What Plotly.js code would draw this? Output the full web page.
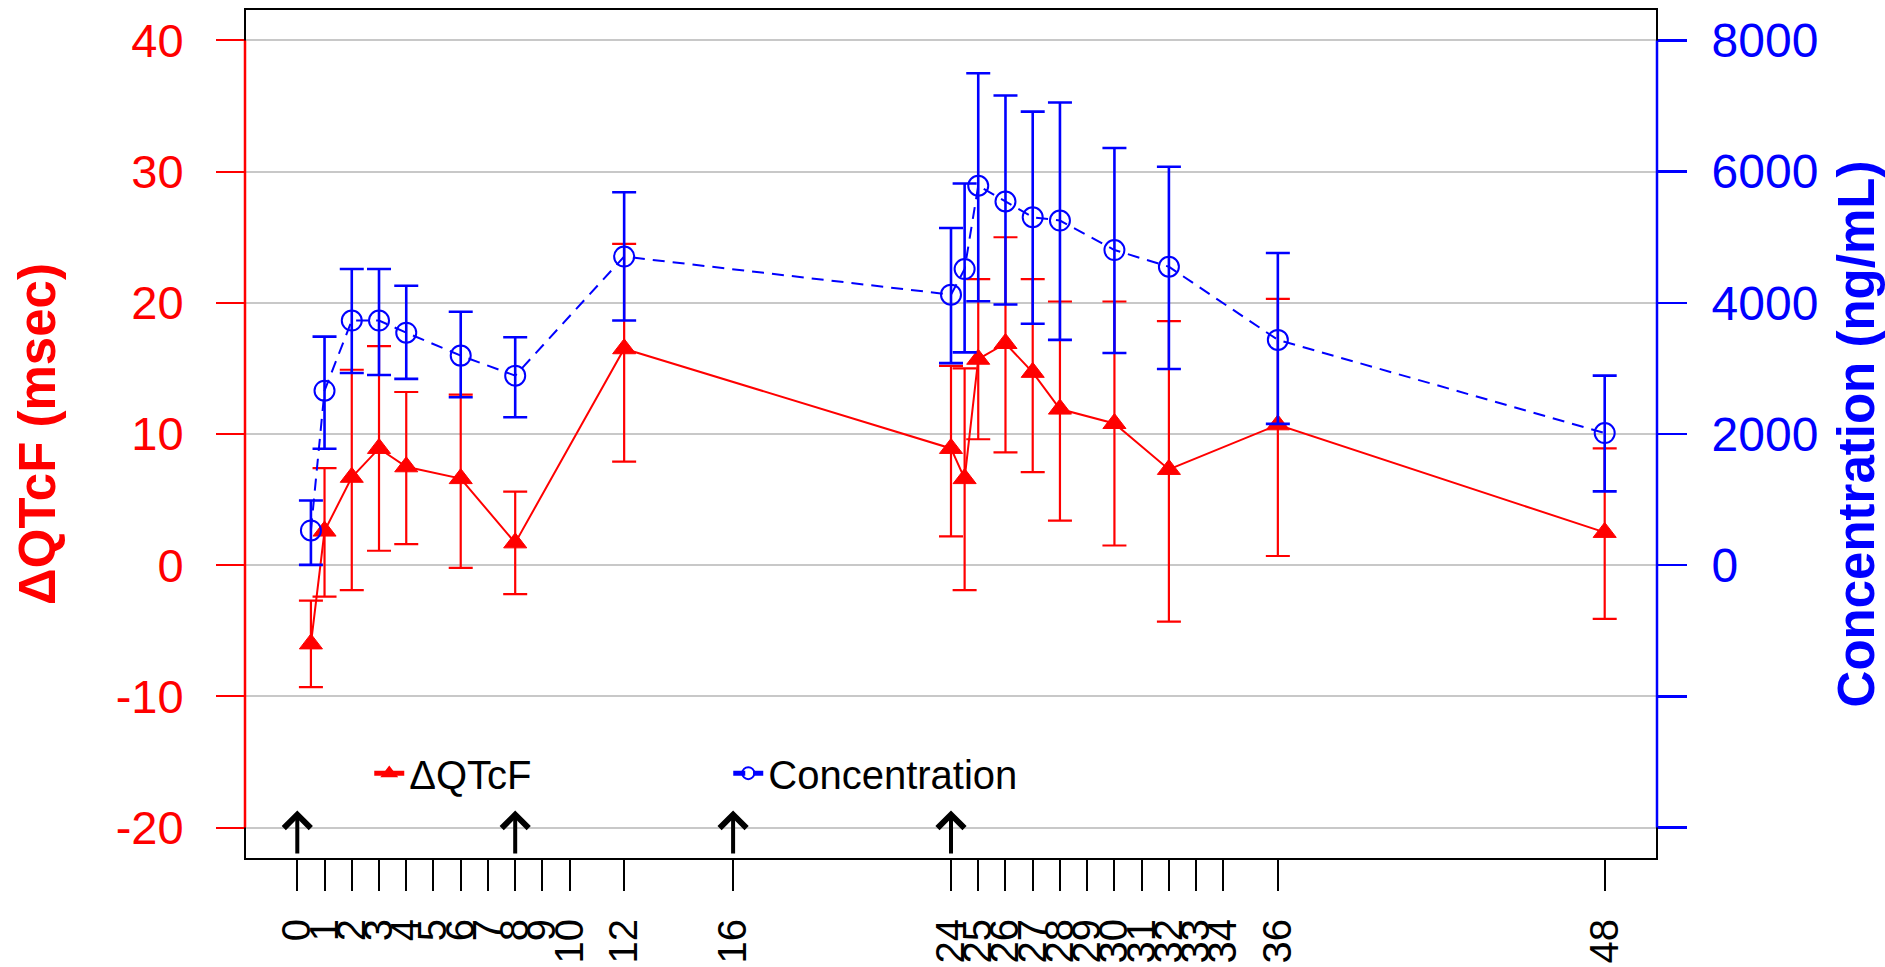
<!DOCTYPE html>
<html>
<head>
<meta charset="utf-8">
<script src="https://cdn.plot.ly/plotly-3.0.1.min.js"></script>
<style>
html, body { margin: 0; padding: 0; background: #ffffff; }
#chart { width: 1885px; height: 967px; }
</style>
</head>
<body>
<div id="chart"></div>
<script>
// ---- data ----
const timeHours = [0.5, 1, 2, 3, 4, 6, 8, 12, 24, 24.5, 25, 26, 27, 28, 30, 32, 36, 48];
const qtcfMean  = [-6.0, 2.6, 6.7, 8.9, 7.5, 6.6, 1.7, 16.5, 8.9, 6.6, 15.7, 16.9, 14.7, 11.9, 10.8, 7.3, 10.7, 2.5];
const qtcfUpper = [-2.7, 7.4, 14.9, 16.7, 13.2, 13.0, 5.6, 24.5, 15.2, 15.0, 21.8, 25.0, 21.8, 20.1, 20.1, 18.6, 20.3, 8.9];
const qtcfLower = [-9.3, -2.4, -1.9, 1.1, 1.6, -0.2, -2.2, 7.9, 2.2, -1.9, 9.6, 8.6, 7.1, 3.4, 1.5, -4.3, 0.7, -4.1];
const concMean  = [530, 2660, 3730, 3730, 3545, 3195, 2890, 4705, 4125, 4515, 5785, 5545, 5305, 5255, 4805, 4550, 3435, 2015];
const concUpper = [985, 3485, 4515, 4515, 4260, 3865, 3475, 5685, 5140, 5820, 7500, 7160, 6915, 7055, 6360, 6075, 4760, 2890];
const concLower = [5, 1775, 2930, 2900, 2840, 2560, 2255, 3730, 3080, 3245, 4025, 3975, 3680, 3435, 3235, 2990, 2155, 1125];

const xTickVals   = [0, 1, 2, 3, 4, 5, 6, 7, 8, 9, 10, 12, 16, 24, 25, 26, 27, 28, 29, 30, 31, 32, 33, 34, 36, 48];
const xTickText   = xTickVals.map(String);
const leftTicks   = [-20, -10, 0, 10, 20, 30, 40];
const leftLabels  = ['-20', '-10', '0', '10', '20', '30', '40'];
const rightTicks  = [-4000, -2000, 0, 2000, 4000, 6000, 8000];
const rightLabels = ['', '', '0', '2000', '4000', '6000', '8000'];
const doseTimes   = [0, 8, 16, 24];

const seriesNames = ['\u0394QTcF', 'Concentration'];
const leftTitle   = '\u0394QTcF (msec)';
const rightTitle  = 'Concentration (ng/mL)';

// ---- styling ----
const FONT = 'Liberation Sans, Arial, Helvetica, sans-serif';
const RED = '#ff0000';
const BLUE = '#0000ff';

const diff = (a, b) => a.map((v, i) => +(v - b[i]).toFixed(3));

const traces = [
  {
    x: timeHours, y: qtcfMean, yaxis: 'y', name: seriesNames[0],
    type: 'scatter', mode: 'lines+markers',
    line: { color: RED, width: 2 },
    marker: { symbol: 'triangle-up', size: 20, color: RED, line: { color: RED, width: 1 } },
    error_y: { type: 'data', symmetric: false, array: diff(qtcfUpper, qtcfMean),
               arrayminus: diff(qtcfMean, qtcfLower), color: RED, thickness: 2.2, width: 12 },
    showlegend: true
  },
  {
    x: timeHours, y: concMean, yaxis: 'y2', name: seriesNames[1],
    type: 'scatter', mode: 'lines+markers',
    line: { color: BLUE, width: 2, dash: '12px,8px' },
    marker: { symbol: 'circle-open', size: 20, color: BLUE, line: { color: BLUE, width: 2 } },
    error_y: { type: 'data', symmetric: false, array: diff(concUpper, concMean),
               arrayminus: diff(concMean, concLower), color: BLUE, thickness: 2.6, width: 12 },
    showlegend: true
  }
];

const arrows = doseTimes.map(t => ({
  x: t, y: -18.7, ax: t, ay: -22.1,
  xref: 'x', yref: 'y', axref: 'x', ayref: 'y',
  text: '', showarrow: true, arrowhead: 4, arrowsize: 1.3, arrowwidth: 4, arrowcolor: '#000000'
}));

const layout = {
  width: 1885, height: 967,
  margin: { l: 245, r: 228, t: 9, b: 108, pad: 0 },
  paper_bgcolor: '#ffffff', plot_bgcolor: '#ffffff',
  font: { family: FONT, color: '#000000' },
  xaxis: {
    range: [-1.92, 49.92], tickmode: 'array', tickvals: xTickVals, ticktext: xTickText,
    tickangle: -90, ticks: 'outside', ticklen: 31, tickwidth: 2, tickcolor: '#000000',
    ticklabelstandoff: 12,
    tickfont: { family: FONT, size: 40, color: '#000000' },
    showgrid: false, zeroline: false, showline: false
  },
  yaxis: {
    range: [-22.4, 42.4], tickmode: 'array', tickvals: leftTicks, ticktext: leftLabels,
    ticks: 'outside', ticklen: 28, tickwidth: 2, tickcolor: RED,
    ticklabelstandoff: 23,
    tickfont: { family: FONT, size: 47, color: RED },
    showgrid: true, gridcolor: '#c8c8c8', gridwidth: 2,
    zeroline: false, showline: false,
    title: { text: leftTitle, font: { family: FONT, size: 51, color: RED, weight: 'bold' }, standoff: 43 }
  },
  yaxis2: {
    overlaying: 'y', side: 'right',
    range: [-4480, 8480], tickmode: 'array', tickvals: rightTicks, ticktext: rightLabels,
    ticks: 'outside', ticklen: 29, tickwidth: 2.5, tickcolor: BLUE,
    ticklabelstandoff: 15,
    tickfont: { family: FONT, size: 48, color: BLUE },
    showgrid: false, zeroline: false, showline: false,
    title: { text: rightTitle, font: { family: FONT, size: 51, color: BLUE, weight: 'bold' }, standoff: 25 }
  },
  legend: {
    orientation: 'h', x: 0.088, y: 0.101, xanchor: 'left', yanchor: 'middle',
    font: { family: FONT, size: 40, color: '#000000' },
    bgcolor: 'rgba(0,0,0,0)', borderwidth: 0, itemsizing: 'constant',
    entrywidth: 314, entrywidthmode: 'pixels'
  },
  shapes: [
    { type: 'rect', xref: 'paper', yref: 'paper', x0: 0, x1: 1, y0: 0, y1: 1,
      line: { color: '#000000', width: 2 }, fillcolor: 'rgba(0,0,0,0)', layer: 'above' },
    { type: 'line', xref: 'paper', yref: 'y', x0: 0, x1: 0,
      y0: Math.min(...leftTicks), y1: Math.max(...leftTicks), line: { color: RED, width: 2.5 }, layer: 'above' },
    { type: 'line', xref: 'paper', yref: 'y2', x0: 1, x1: 1,
      y0: Math.min(...rightTicks), y1: Math.max(...rightTicks), line: { color: BLUE, width: 2.5 }, layer: 'above' }
  ],
  annotations: arrows,
  showlegend: true
};

Plotly.newPlot('chart', traces, layout, { staticPlot: true, displayModeBar: false });
</script>
</body>
</html>
